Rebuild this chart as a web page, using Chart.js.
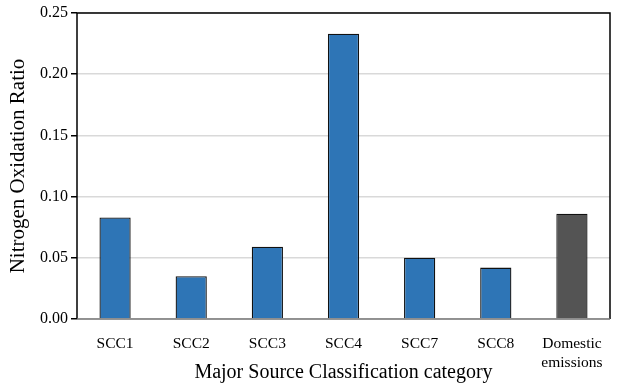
<!DOCTYPE html>
<html><head><meta charset="utf-8">
<script src="https://cdn.jsdelivr.net/npm/chart.js@4/dist/chart.umd.min.js"></script>
<style>html,body{margin:0;padding:0;background:#fff}#wrap{width:618px;height:389px}</style>
</head><body><div id="wrap"><canvas id="c" width="618" height="389"></canvas></div>
<script>
const categories = ["SCC1","SCC2","SCC3","SCC4","SCC7","SCC8",["Domestic","emissions"]];
const ratios = [0.083,0.035,0.059,0.233,0.050,0.042,0.086];
const barColors = ["#2E75B6","#2E75B6","#2E75B6","#2E75B6","#2E75B6","#2E75B6","#545454"];
const yTicks = [0,0.05,0.10,0.15,0.20,0.25];

const frame = {
  id:'frame',
  afterDraw(chart){
    const {ctx, chartArea:a} = chart;
    ctx.save();
    ctx.strokeStyle='#000'; ctx.lineWidth=1.5;
    ctx.beginPath();
    ctx.moveTo(a.left,a.bottom); ctx.lineTo(a.left,a.top); ctx.lineTo(a.right,a.top); ctx.lineTo(a.right,a.bottom);
    ctx.stroke();
    ctx.strokeStyle='#777'; ctx.lineWidth=1.5;
    ctx.beginPath(); ctx.moveTo(a.left,a.bottom); ctx.lineTo(a.right,a.bottom); ctx.stroke();
    ctx.restore();
  }
};

new Chart(document.getElementById('c'),{
  type:'bar',
  data:{labels:categories,datasets:[{data:ratios,backgroundColor:barColors,borderColor:'#111',borderWidth:1.3,barPercentage:0.41,categoryPercentage:1}]},
  options:{
    responsive:false,animation:false,
    layout:{padding:{left:6,right:8,top:13,bottom:4}},
    plugins:{legend:{display:false},tooltip:{enabled:false}},
    scales:{
      x:{
        grid:{display:false},
        border:{display:false},
        ticks:{color:'#000',font:{family:'Liberation Serif',size:15.5},padding:8,maxRotation:0,autoSkip:false},
        title:{display:true,text:'Major Source Classification category',color:'#000',font:{family:'Liberation Serif',size:20},padding:{top:4,bottom:0}},
        afterFit(s){s.height=66;}
      },
      y:{
        min:0,max:0.25,
        afterBuildTicks(s){s.ticks=yTicks.map(v=>({value:v}));},
        grid:{color:'#d9d9d9',lineWidth:1.5,tickColor:'#000',tickLength:6,drawTicks:true},
        border:{display:false},
        ticks:{color:'#000',font:{family:'Liberation Serif',size:16},padding:3,callback:v=>v.toFixed(2)},
        title:{display:true,text:'Nitrogen Oxidation Ratio',color:'#000',font:{family:'Liberation Serif',size:21},padding:{top:0,bottom:4}},
        afterFit(s){s.width=71;}
      }
    }
  },
  plugins:[frame]
});
</script></body></html>
